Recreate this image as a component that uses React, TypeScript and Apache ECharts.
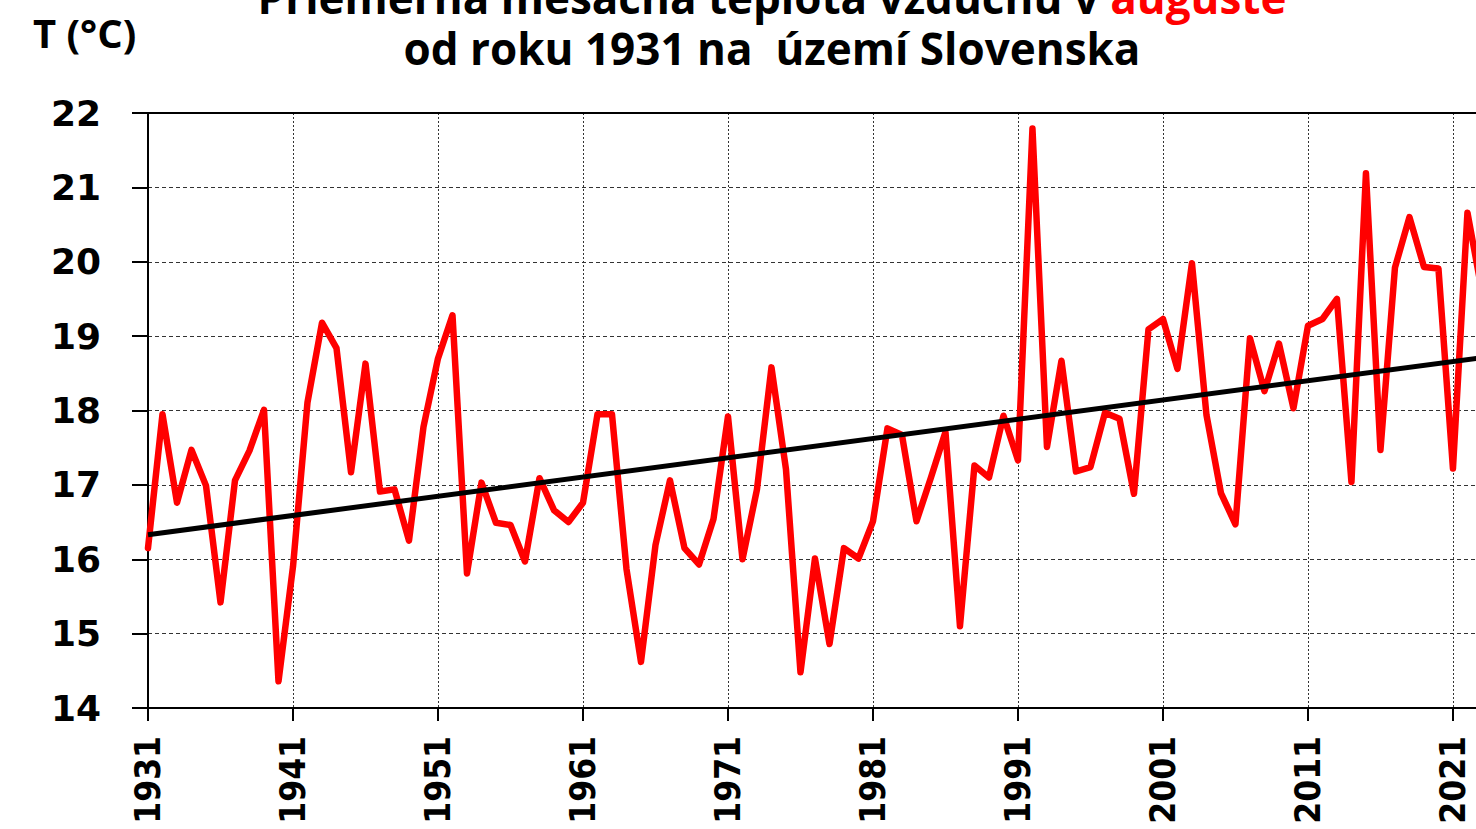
import React, { useEffect, useRef } from 'react';
import * as echarts from 'echarts';

const START_YEAR = 1931;

// Priemerná augustová teplota (°C), 1931–2023
const temps: number[] = [
  16.15, 17.95, 16.76, 17.47, 16.99, 15.42, 17.06, 17.46, 18.01, 14.36, // 1931-1940
  15.9, 18.11, 19.18, 18.84, 17.17, 18.63, 16.91, 16.94, 16.25, 17.78, // 1941-1950
  18.7, 19.28, 15.81, 17.03, 16.49, 16.46, 15.97, 17.09, 16.66, 16.5, // 1951-1960
  16.76, 17.95, 17.95, 15.87, 14.62, 16.19, 17.06, 16.15, 15.93, 16.54, // 1961-1970
  17.92, 16.0, 16.94, 18.58, 17.21, 14.48, 16.01, 14.86, 16.15, 16.01, // 1971-1980
  16.51, 17.76, 17.67, 16.51, 17.1, 17.71, 15.1, 17.26, 17.1, 17.93, // 1981-1990
  17.33, 21.79, 17.51, 18.67, 17.18, 17.24, 17.97, 17.89, 16.88, 19.09, // 1991-2000
  19.23, 18.56, 19.98, 17.94, 16.89, 16.47, 18.97, 18.26, 18.9, 18.03, // 2001-2010
  19.14, 19.23, 19.5, 17.04, 21.19, 17.47, 19.92, 20.6, 19.93, 19.91, // 2011-2020
  17.22, 20.66, 19.6, // 2021-2023
];

// lineárny trend: hodnoty na začiatku (1931) a na konci (2023)
const trendValues: number[] = [16.33, 18.71];

const yTicks = { min: 14, max: 22, step: 1 };
const xLabelStep = 10;
const xVisibleEnd = 91.59; // years after 1931 visible at the right edge

const titleLine1Black = 'Priemerná mesačná teplota vzduchu v ';
const titleLine1Red = 'auguste';
const titleLine2 = 'od roku 1931 na  území Slovenska';
const yAxisTitle = 'T (°C)';

export default function App() {
  const ref = useRef<HTMLDivElement>(null);

  useEffect(() => {
    if (!ref.current) return;
    const chart = echarts.init(ref.current, null, { renderer: 'svg' });
    const lineData = temps.map((t, i) => [i, t]);
    const trendData = [
      [0, trendValues[0]],
      [temps.length - 1, trendValues[1]],
    ];

    chart.setOption({
      animation: false,
      backgroundColor: '#ffffff',
      grid: { left: 148, right: 0, top: 113, bottom: 121, containLabel: false },
      xAxis: [
        {
          type: 'value',
          min: 0,
          max: xVisibleEnd,
          interval: xLabelStep,
          axisLine: { show: true, onZero: false, lineStyle: { color: '#000', width: 2 } },
          axisTick: { show: true, length: 13, lineStyle: { color: '#000', width: 2 } },
          axisLabel: {
            rotate: 90,
            margin: 28,
            showMaxLabel: false,
            color: '#000',
            fontFamily: 'DejaVu Sans Condensed',
            fontWeight: 'bold',
            fontSize: 35,
            formatter: (v: number) =>
              Number.isInteger(v) && v % xLabelStep === 0 ? String(v + START_YEAR) : '',
          },
          splitLine: { show: true, lineStyle: { color: '#333', width: 1, type: [2, 2] } },
        },
        {
          type: 'value',
          position: 'top',
          min: 0,
          max: xVisibleEnd,
          axisLine: { show: true, onZero: false, lineStyle: { color: '#000', width: 2 } },
          axisTick: { show: false },
          axisLabel: { show: false },
          splitLine: { show: false },
        },
      ],
      yAxis: {
        type: 'value',
        min: yTicks.min,
        max: yTicks.max,
        interval: yTicks.step,
        axisLine: { show: true, onZero: false, lineStyle: { color: '#000', width: 2 } },
        axisTick: { show: true, length: 16, lineStyle: { color: '#000', width: 2 } },
        axisLabel: {
          margin: 47,
          color: '#000',
          fontFamily: 'DejaVu Sans',
          fontWeight: 'bold',
          fontSize: 36,
        },
        splitLine: { show: true, lineStyle: { color: '#333', width: 1, type: [4, 3] } },
      },
      series: [
        {
          type: 'line',
          data: lineData,
          showSymbol: false,
          symbol: 'none',
          lineStyle: { color: '#ff0000', width: 6.5, join: 'round', cap: 'round' },
          z: 3,
        },
        {
          type: 'line',
          data: trendData,
          showSymbol: false,
          symbol: 'none',
          lineStyle: { color: '#000000', width: 5 },
          z: 4,
        },
      ],
      graphic: [
        {
          type: 'text',
          x: 772,
          y: -3,
          style: {
            text: `{a|${titleLine1Black}}{b|${titleLine1Red}}`,
            align: 'center',
            verticalAlign: 'middle',
            fontFamily: 'Open Sans',
            fontWeight: 'bold',
            fontSize: 44,
            lineHeight: 40,
            rich: {
              a: { fill: '#000', fontFamily: 'Open Sans', fontWeight: 'bold', fontSize: 44, lineHeight: 40 },
              b: { fill: '#ff0000', fontFamily: 'Open Sans', fontWeight: 'bold', fontSize: 44, lineHeight: 40 },
            },
          },
        },
        {
          type: 'text',
          x: 772,
          y: 48,
          style: {
            text: titleLine2,
            align: 'center',
            verticalAlign: 'middle',
            fill: '#000',
            fontFamily: 'Open Sans',
            fontWeight: 'bold',
            fontSize: 44,
            lineHeight: 40,
          },
        },
        {
          type: 'text',
          x: 33,
          y: 32,
          style: {
            text: yAxisTitle,
            align: 'left',
            verticalAlign: 'middle',
            fill: '#000',
            fontFamily: 'Open Sans',
            fontWeight: 'bold',
            fontSize: 40,
          },
        },
      ],
    });

    return () => chart.dispose();
  }, []);

  return (
    <div
      ref={ref}
      style={{ position: 'absolute', left: 0, top: 0, width: 1476, height: 829, overflow: 'hidden' }}
    />
  );
}
